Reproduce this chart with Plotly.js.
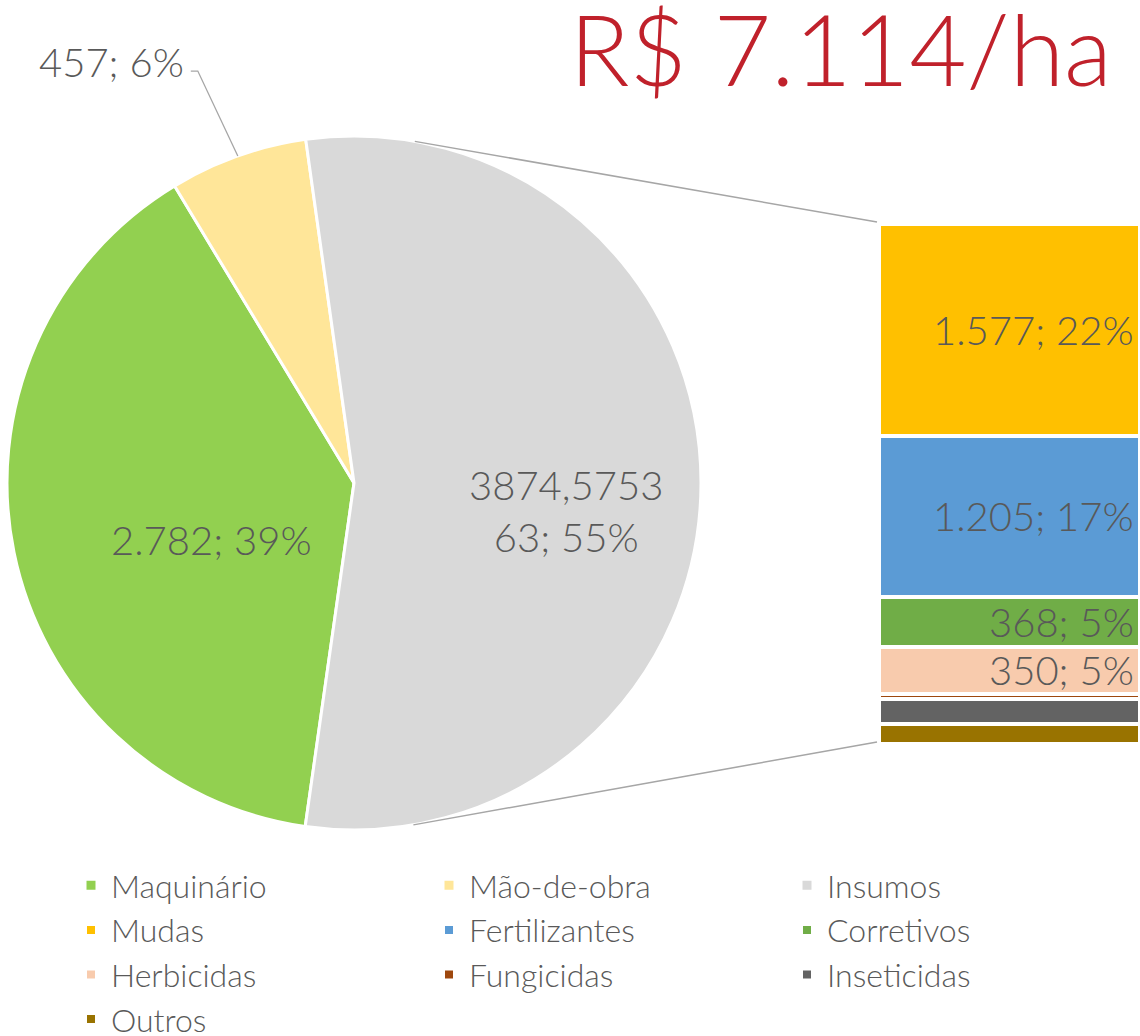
<!DOCTYPE html>
<html><head><meta charset="utf-8">
<script src="https://cdn.plot.ly/plotly-3.0.1.min.js"></script>
<style>body{margin:0;background:#fff}</style>
</head><body><div id="chart" style="width:1140px;height:1036px"></div>
<script>
// ---- data ----
const pieLabels = ['Maquinário', 'Mão-de-obra', 'Insumos'];
const pieValues = [2782, 457, 3874.575363];
const pieColors = ['#92D050', '#FFE699', '#D9D9D9'];
const pieText = ['2.782; 39%', '457; 6%', '3874,5753<br>63; 55%'];

const barLabels = ['Mudas', 'Fertilizantes', 'Corretivos', 'Herbicidas', 'Fungicidas', 'Inseticidas', 'Outros'];
const barValues = [1577, 1205, 368, 350, 42, 183, 150];
const barColors = ['#FFC000', '#5B9BD5', '#70AD47', '#F8CBAD', '#9E480E', '#636363', '#997300'];
const barText = ['1.577; 22%', '1.205; 17%', '368; 5%', '350; 5%', '', '', ''];

const titleText = 'R$ 7.114/ha';

// ---- layout geometry ----
const W = 1140, H = 1036;
const FONT = 'Lato, "Open Sans", sans-serif';
const TXT = '#595959';
const pieBox = {x0: 7, x1: 701, y0: 136, y1: 830};
const barBox = {x0: 879, x1: 1140, y0: 224, y1: 744};
const px2x = v => v / W;
const px2y = v => 1 - v / H;

const total = pieValues.reduce((a, b) => a + b, 0);
const barTotal = barValues.reduce((a, b) => a + b, 0);
// Insumos (last slice) starts slightly left of 12 o'clock
const insStartDeg = -8;
const rotation = insStartDeg - 360 * (pieValues[0] + pieValues[1]) / total + 360;

const cx = (pieBox.x0 + pieBox.x1) / 2, cy = (pieBox.y0 + pieBox.y1) / 2;
const R = Math.min(pieBox.x1 - pieBox.x0, pieBox.y1 - pieBox.y0) / 2;

const traces = [];
traces.push({
  type: 'pie',
  labels: pieLabels, values: pieValues,
  textinfo: 'none',
  sort: false, direction: 'clockwise', rotation: rotation,
  marker: {colors: pieColors, line: {color: '#ffffff', width: 3}},
  domain: {x: [px2x(pieBox.x0), px2x(pieBox.x1)], y: [px2y(pieBox.y1), px2y(pieBox.y0)]},
  hoverinfo: 'label+value+percent'
});
barLabels.forEach((lab, i) => {
  traces.push({
    type: 'bar', name: lab, x: ['Insumos'], y: [barValues[i]],
    marker: {color: barColors[i], line: {color: '#ffffff', width: 4}},
    xaxis: 'x', yaxis: 'y', hoverinfo: 'name+y'
  });
});

// connector tangents from bar corners to the pie circle
function tangent(px, py, sign) {
  const dx = px - cx, dy = py - cy;
  const d = Math.hypot(dx, dy);
  const phi = Math.atan2(dy, dx);
  const a = phi + sign * Math.acos(R / d);
  return [cx + R * Math.cos(a), cy + R * Math.sin(a)];
}
const tTop = tangent(barBox.x0, barBox.y0, -1);
const tBot = tangent(barBox.x0, barBox.y1, 1);
const shapes = [
  {type: 'line', xref: 'paper', yref: 'paper', x0: px2x(tTop[0]), y0: px2y(tTop[1]), x1: px2x(barBox.x0 - 2), y1: px2y(barBox.y0 - 2), line: {color: '#A6A6A6', width: 1.5}},
  {type: 'line', xref: 'paper', yref: 'paper', x0: px2x(tBot[0]), y0: px2y(tBot[1]), x1: px2x(barBox.x0 - 2), y1: px2y(barBox.y1 - 2), line: {color: '#A6A6A6', width: 1.5}}
];

const LBL = {family: FONT, size: 40, color: TXT, weight: 300};
const annotations = [];
// bar labels, right aligned, at the middle of each stacked segment
let cum = 0;
barValues.forEach((v, i) => {
  const mid = cum + v / 2; cum += v;
  if (barText[i]) annotations.push({
    xref: 'paper', yref: 'y', x: px2x(1136), y: mid, xanchor: 'right', yanchor: 'middle',
    text: barText[i], showarrow: false, font: LBL
  });
});
// pie labels placed along each slice's middle angle
function sliceMid(i) {
  const before = pieValues.slice(0, i).reduce((a, b) => a + b, 0);
  return (rotation + (before + pieValues[i] / 2) / total * 360) * Math.PI / 180;
}
const insideFrac = [0.42, null, 0.61];
[0, 2].forEach(i => {
  const a = sliceMid(i), r = R * insideFrac[i];
  annotations.push({
    xref: 'paper', yref: 'paper', x: px2x(cx + r * Math.sin(a)), y: px2y(cy - r * Math.cos(a)),
    xanchor: 'center', yanchor: 'middle', yshift: -28,
    text: pieText[i], showarrow: false, font: LBL
  });
});
// outside label of the small slice with an elbow leader line
const mA = sliceMid(1);
const tipX = cx + R * Math.sin(mA), tipY = cy - R * Math.cos(mA);
const labX = tipX - 126, labY = tipY - 94;
annotations.push({
  xref: 'paper', yref: 'paper', x: px2x(labX), y: px2y(labY), xanchor: 'center', yanchor: 'middle',
  text: pieText[1], showarrow: false, font: LBL
});
shapes.push({
  type: 'path', xref: 'paper', yref: 'paper',
  path: `M ${px2x(labX + 79)} ${px2y(labY + 9)} L ${px2x(labX + 86)} ${px2y(labY + 9)} L ${px2x(tipX)} ${px2y(tipY)}`,
  line: {color: '#A6A6A6', width: 1.3}
});

const layout = {
  width: W, height: H, margin: {l: 0, r: 0, t: 0, b: 0, autoexpand: false},
  paper_bgcolor: '#ffffff', plot_bgcolor: 'rgba(0,0,0,0)',
  font: {family: FONT, color: TXT},
  title: {text: titleText, font: {family: FONT, size: 99, color: '#C0212B', weight: 300},
          xref: 'container', yref: 'container', x: 1112 / W, xanchor: 'right', y: 1 - 17 / H, yanchor: 'top', pad: {t: 0, b: 0, l: 0, r: 0}},
  barmode: 'stack', bargap: 0,
  xaxis: {domain: [px2x(barBox.x0), 1], visible: false, type: 'category', range: [-0.5, 0.5], fixedrange: true},
  yaxis: {domain: [px2y(barBox.y1), px2y(barBox.y0)], visible: false, range: [barTotal, 0], fixedrange: true},
  showlegend: true,
  legend: {orientation: 'h', x: 71 / W, y: px2y(858), xanchor: 'left', yanchor: 'top',
           font: {family: FONT, size: 32, color: TXT, weight: 300}, traceorder: 'normal',
           entrywidth: 313, entrywidthmode: 'pixels', itemclick: false, itemdoubleclick: false,
           bgcolor: 'rgba(0,0,0,0)'},
  shapes: shapes, annotations: annotations
};
Plotly.newPlot('chart', traces, layout, {displayModeBar: false, staticPlot: true});
</script>
</body></html>
